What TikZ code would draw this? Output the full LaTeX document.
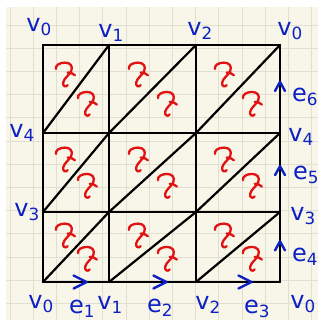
\documentclass[tikz,border=0pt]{standalone}
\usepackage{fontspec}
\setsansfont{DejaVu Sans}
\usetikzlibrary{calc, decorations.markings}
\definecolor{paper}{RGB}{248,245,233}
\definecolor{paperline}{RGB}{226,222,208}
\definecolor{inkblue}{RGB}{12,32,196}
\definecolor{inkred}{RGB}{224,18,18}

\begin{document}
\begin{tikzpicture}[x=1pt, y=-1pt,
  edge/.style={line width=2.2pt, black, line cap=round},
  lbl/.style={inkblue, font=\sffamily\fontsize{24}{24}\selectfont, inner sep=0pt},
  chev/.style={inkblue, line width=2.4pt, line cap=round, line join=round},
  hmark/.style={postaction={decorate}, decoration={markings, mark=at position 0.66 with {\draw[chev] (-13,-6.5) -- (0,0) -- (-13,6.5);}}},
  vmark/.style={postaction={decorate}, decoration={markings, mark=at position 0.58 with {\draw[chev] (-9,-5) -- (0,0) -- (-9,5);}}},
  orient/.pic={
    \draw[inkred, line width=2.3pt, line cap=round, line join=round, scale=0.9]
      (-10,-6) .. controls (-11,-10) and (-6,-13) .. (0,-13)
      .. controls (6,-13) and (9,-9) .. (7,-4)
      .. controls (5,1) and (-1,4) .. (-2,9)
      .. controls (-3,13) and (1,15) .. (3,12)
      (3,-2) .. controls (6,-2) and (9,-1) .. (11,1);
  },
]
\useasboundingbox (0,0) rectangle (324,326);

% === Paper ===
\fill[paper] (6,7) rectangle (318,320);
\foreach \k in {0,...,13}
  \draw[paperline, line width=0.8pt] ({10+23.2*\k},7) -- ({10+23.2*\k},320);
\foreach \k in {0,...,12}
  \draw[paperline, line width=0.8pt] (6,{25+23.2*\k}) -- (318,{25+23.2*\k});

% === Vertices of the square ===
\foreach \px [count=\i from 0] in {43,109,196,280}
  \foreach \py [count=\j from 0] in {45,133,212,282}
    \coordinate (p\i\j) at (\px,\py);

% === Triangulation ===
\draw[edge] (p03) -- (p00) -- (p30);
\draw[edge] (p10) -- (p13);
\draw[edge] (p20) -- (p23);
\draw[edge] (p01) -- (p31);
\draw[edge] (p02) -- (p32);
\foreach \i in {0,1,2}
  \foreach \j in {0,1,2} {
    \pgfmathtruncatemacro{\ii}{\i+1}
    \pgfmathtruncatemacro{\jj}{\j+1}
    \draw[edge] (p\i\jj) -- (p\ii\j);
    \pic at ($0.3333*(p\i\j)+0.3333*(p\ii\j)+0.3333*(p\i\jj)$) {orient};
    \pic at ($0.3333*(p\ii\j)+0.3333*(p\ii\jj)+0.3333*(p\i\jj)$) {orient};
  }

% oriented edges e1..e6
\foreach \i in {0,1,2} {
  \pgfmathtruncatemacro{\ii}{\i+1}
  \draw[edge, hmark] (p\i3) -- (p\ii3);
  \draw[edge, vmark] (p3\ii) -- (p3\i);
}

% === Labels ===
\node[lbl] (v0a) at (39,27) {v\textsubscript{0}};
\node[lbl] (v1a) at (111,33) {v\textsubscript{1}};
\node[lbl] (v2a) at (200,31) {v\textsubscript{2}};
\node[lbl] (v0b) at (290,31) {v\textsubscript{0}};
\node[lbl] (v4a) at (22,133) {v\textsubscript{4}};
\node[lbl] (v3a) at (27,212) {v\textsubscript{3}};
\node[lbl] (v4b) at (301,137) {v\textsubscript{4}};
\node[lbl] (v3b) at (303,216) {v\textsubscript{3}};
\node[lbl] (e6) at (305,97) {e\textsubscript{6}};
\node[lbl] (e5) at (306,175) {e\textsubscript{5}};
\node[lbl] (e4) at (305,257) {e\textsubscript{4}};
\node[lbl] (v0c) at (41,304) {v\textsubscript{0}};
\node[lbl] (e1) at (82,309) {e\textsubscript{1}};
\node[lbl] (v1b) at (110,305) {v\textsubscript{1}};
\node[lbl] (e2) at (160,308) {e\textsubscript{2}};
\node[lbl] (v2b) at (208,305) {v\textsubscript{2}};
\node[lbl] (e3) at (257,309) {e\textsubscript{3}};
\node[lbl] (v0d) at (303,304) {v\textsubscript{0}};
\end{tikzpicture}
\end{document}
